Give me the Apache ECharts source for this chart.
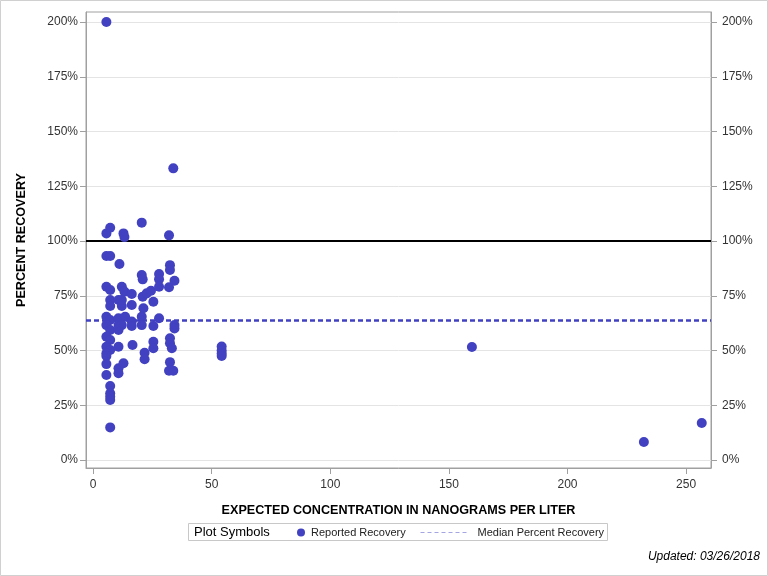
<!DOCTYPE html>
<html>
<head>
<meta charset="utf-8">
<script src="https://cdn.jsdelivr.net/npm/echarts@6/dist/echarts.min.js"></script>
<style>
html,body{margin:0;padding:0;background:#fff;}
#chart{width:768px;height:576px;}
</style>
</head>
<body>
<div id="chart"></div>
<script>
// Expected concentration (ng/L) and percent recovery for each reported sample
var concentration = [
  5.6, 5.6, 7.2, 5.6, 7.2, 5.6, 7.2, 7.2, 7.2, 5.6, 7.2, 5.6, 7.2, 5.6, 7.2, 5.6, 7.2, 5.6, 5.6, 5.6, 5.6,
  7.2, 7.2, 7.2, 7.2, 7.2,
  11.1, 10.7, 10.7, 10.7, 10.7, 10.7, 10.7, 10.7,
  12.8, 13.2, 12.1, 13.2, 12.1, 12.1, 13.5, 12.8, 12.1,
  16.3, 16.3, 16.3, 16.3, 16.6,
  20.5, 20.5, 20.9, 20.9, 21.2, 20.5, 20.5, 21.7, 21.7, 22.6,
  24.4, 25.4, 25.4, 25.4, 25.4,
  27.8, 27.8, 27.8, 27.8,
  32.0, 32.4, 32.4, 32.0, 32.4, 32.4, 33.2, 32.4, 32.0, 33.8,
  33.8, 34.3, 34.3, 34.3,
  54.2, 54.2, 54.2, 54.2,
  159.7, 232.2, 256.6
];
var recovery = [
  200, 103.5, 106.1, 93.2, 93.2, 79.1, 77.6, 73.1, 70.3, 65.4, 63.9, 61.6, 59.4, 56.3, 54.8, 51.7, 50.2, 48.7, 47.5, 43.8, 38.8,
  33.8, 30.5, 28.9, 27.4, 14.9,
  89.5, 73.1, 64.7, 61.6, 59.4, 51.7, 41.9, 39.6,
  103.5, 101.8, 79.1, 76.9, 73.1, 70.3, 65.4, 44.2, 61.6,
  75.8, 70.8, 63.2, 61.2, 52.5,
  108.4, 84.5, 82.5, 74.6, 69.3, 65.4, 61.6, 49.0, 46.0, 76.1,
  77.3, 72.3, 61.2, 54.0, 51.0,
  84.9, 82.5, 79.1, 64.7,
  102.6, 89.0, 86.8, 78.9, 55.6, 53.3, 51.0, 44.7, 40.8, 40.8,
  133.2, 81.9, 61.6, 60.1,
  51.8, 50.0, 48.6, 47.5,
  51.6, 8.2, 16.9
];
var medianRecovery = 64;
var targetRecovery = 100;
var xTicks = [0, 50, 100, 150, 200, 250];
var yTicks = [0, 25, 50, 75, 100, 125, 150, 175, 200];

var points = concentration.map(function (c, i) { return [c, recovery[i]]; });

var FONT = '"Liberation Sans", Arial, sans-serif';
var BLUE = '#4141c1';
var labelStyle = { color: '#333', fontSize: 12, fontFamily: FONT };
function pct(v) { return v + '%'; }

var chart = echarts.init(document.getElementById('chart'), null, { renderer: 'canvas' });

var yAxisBase = {
  type: 'value', min: -3.65, max: 204.6,
  axisLine: { show: true, onZero: false, lineStyle: { color: '#a0a0a0' } },
  axisTick: { show: true, inside: false, length: 6, customValues: yTicks, lineStyle: { color: '#a0a0a0' } }
};

chart.setOption({
  animation: false,
  backgroundColor: '#fff',
  grid: { left: 86, right: 57, top: 12, bottom: 108, show: true, borderColor: '#a0a0a0', borderWidth: 1 },
  xAxis: {
    type: 'value', min: -3, max: 260.5,
    name: 'EXPECTED CONCENTRATION IN NANOGRAMS PER LITER',
    nameLocation: 'middle', nameGap: 36,
    nameTextStyle: { color: '#000', fontWeight: 'bold', fontSize: 12.6, fontFamily: FONT },
    axisLine: { show: true, onZero: false, lineStyle: { color: '#a0a0a0' } },
    axisTick: { show: true, inside: false, length: 6, customValues: xTicks, lineStyle: { color: '#a0a0a0' } },
    axisLabel: Object.assign({ customValues: xTicks, margin: 11 }, labelStyle),
    splitLine: { show: false }
  },
  yAxis: [
    Object.assign({}, yAxisBase, {
      position: 'left',
      name: 'PERCENT RECOVERY', nameLocation: 'middle', nameGap: 58,
      nameTextStyle: { color: '#000', fontWeight: 'bold', fontSize: 12.6, fontFamily: FONT },
      axisLabel: Object.assign({ customValues: yTicks, margin: 8, formatter: pct }, labelStyle),
      splitLine: { show: true, lineStyle: { color: '#e4e4e4', width: 1 } }
    }),
    Object.assign({}, yAxisBase, {
      position: 'right',
      axisLabel: Object.assign({ customValues: yTicks, margin: 11, formatter: pct }, labelStyle),
      splitLine: { show: false }
    })
  ],
  legend: [
    {
      left: 297, top: 527, itemWidth: 10, itemHeight: 8, padding: 0,
      data: [{ name: 'Reported Recovery', icon: 'circle' }],
      textStyle: { color: '#222', fontSize: 11, fontFamily: FONT },
      selectedMode: false
    },
    {
      left: 420, top: 527, itemWidth: 46, itemHeight: 8, padding: 0,
      data: [{ name: 'Median Percent Recovery' }],
      itemStyle: { opacity: 0 },
      lineStyle: { color: '#a5a5e3', width: 1, type: [4, 3] },
      textStyle: { color: '#222', fontSize: 11, fontFamily: FONT, padding: [0, 0, 0, 6] },
      selectedMode: false
    }
  ],
  series: [
    {
      name: 'Reported Recovery', type: 'scatter', symbol: 'circle', symbolSize: 10,
      itemStyle: { color: BLUE, opacity: 1 },
      data: points, z: 5,
      markLine: {
        silent: true, symbol: 'none', label: { show: false },
        lineStyle: { color: '#000', width: 2, type: 'solid' },
        data: [{ yAxis: targetRecovery }]
      }
    },
    {
      name: 'Median Percent Recovery', type: 'line', symbol: 'none', showSymbol: false,
      lineStyle: { color: BLUE, width: 2.5, type: [5, 3] },
      data: [],
      markLine: {
        silent: true, symbol: 'none', label: { show: false },
        lineStyle: { color: BLUE, width: 2.5, type: [5, 3] },
        data: [{ yAxis: medianRecovery }]
      }
    }
  ],
  graphic: [
    { type: 'rect', shape: { x: 0.5, y: 0.5, width: 767, height: 575 }, style: { fill: 'none', stroke: '#d0d0d0', lineWidth: 1 }, silent: true },
    { type: 'rect', shape: { x: 188.5, y: 523.5, width: 419, height: 17 }, style: { fill: 'none', stroke: '#c8c8c8', lineWidth: 1 }, silent: true, z: -1 },
    { type: 'text', x: 194, y: 532, style: { text: 'Plot Symbols', fill: '#000', font: '13px ' + FONT, textVerticalAlign: 'middle' }, silent: true },
    { type: 'text', x: 760, y: 557, style: { text: 'Updated: 03/26/2018', fill: '#000', font: 'italic 12px ' + FONT, textAlign: 'right', textVerticalAlign: 'middle' }, silent: true }
  ]
});
</script>
</body>
</html>
